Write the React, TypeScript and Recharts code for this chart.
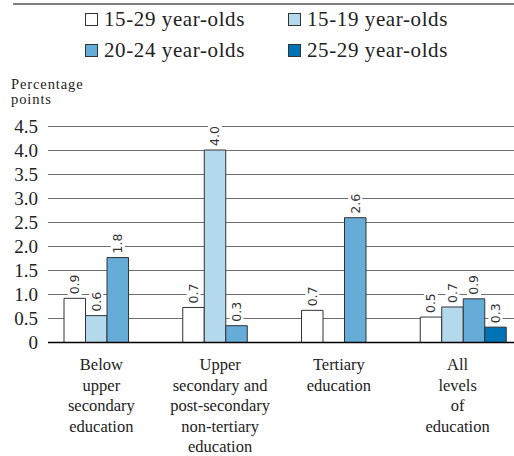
import React from "react";
import { BarChart, Bar, XAxis, YAxis, CartesianGrid, LabelList } from "recharts";

const categoryLines: string[][] = [
  ["Below", "upper", "secondary", "education"],
  ["Upper", "secondary and", "post-secondary", "non-tertiary", "education"],
  ["Tertiary", "education"],
  ["All", "levels", "of", "education"],
];
const seriesNames = ["15-29 year-olds", "15-19 year-olds", "20-24 year-olds", "25-29 year-olds"];
const seriesColors = ["#ffffff", "#b4d8ec", "#65acd8", "#0072b6"];
const s1529 = [0.92, 0.73, 0.67, 0.53];
const s1519 = [0.56, 4.01, null, 0.74];
const s2024 = [1.77, 0.35, 2.6, 0.91];
const s2529 = [null, null, null, 0.32];
const yTicks = [0, 0.5, 1, 1.5, 2, 2.5, 3, 3.5, 4, 4.5];

const seriesValues = [s1529, s1519, s2024, s2529];
const keys = ["a", "b", "c", "d"];
const data = categoryLines.map((lines, i) => {
  const row: any = { name: lines.join(" "), idx: i };
  keys.forEach((k, j) => (row[k] = seriesValues[j][i]));
  return row;
});

const SERIF = "Liberation Serif, Times New Roman, DejaVu Serif, Liberation Sans, sans-serif";

const ValueLabel = (props: any) => {
  const { x, y, width, value } = props;
  if (value === null || value === undefined) return null;
  const cx = x + width / 2;
  const len = 21;
  const bottom = y - 4;
  return (
    <g>
      <rect x={cx - 7} y={bottom - len - 2} width={14} height={len + 4} fill="#fff" />
      <text
        x={cx}
        y={bottom}
        transform={`rotate(-90 ${cx} ${bottom})`}
        textAnchor="start"
        dominantBaseline="central"
        fontFamily="DejaVu Sans, sans-serif"
        fontSize={12.5}
        fill="#333"
      >
        {Number(value).toFixed(1)}
      </text>
    </g>
  );
};

const CatTick = (props: any) => {
  const { x, y, payload } = props;
  const lines = categoryLines[payload.index] || [];
  return (
    <text x={x - 6} y={y + 27.5} textAnchor="middle" fontFamily={SERIF} fontSize={16.5} fill="#222">
      {lines.map((l, i) => (
        <tspan key={i} x={x - 6} dy={i === 0 ? 0 : 20.6}>
          {l}
        </tspan>
      ))}
    </text>
  );
};

export default function App() {
  return (
    <div style={{ position: "absolute", left: 0, top: 0, width: 514, height: 456, overflow: "hidden", background: "#fff" }}>
      <div style={{ position: "absolute", left: 13, top: 3, width: 501, height: 2, background: "#7f7f7f" }} />
      {seriesNames.map((n, i) => (
        <div
          key={n}
          style={{
            position: "absolute",
            left: i % 2 === 0 ? 85 : 288,
            top: i < 2 ? 7 : 38,
            height: 24,
            display: "flex",
            alignItems: "center",
            fontFamily: SERIF,
            fontSize: 21,
            letterSpacing: 0.6,
            color: "#222",
            whiteSpace: "nowrap",
          }}
        >
          <span
            style={{
              display: "inline-block",
              width: 11,
              height: 11,
              border: "1px solid #333",
              background: seriesColors[i],
              marginRight: 6,
            }}
          />
          {n}
        </div>
      ))}
      <div
        style={{
          position: "absolute",
          left: 11,
          top: 77,
          fontFamily: SERIF,
          fontSize: 14.5,
          letterSpacing: 0.9,
          lineHeight: "15px",
          color: "#222",
        }}
      >
        <div>Percentage</div>
        <div>points</div>
      </div>
      <div style={{ position: "absolute", left: 0, top: 0 }}>
        <BarChart
          width={523}
          height={456}
          data={data}
          margin={{ top: 126.5, right: 0, left: 0, bottom: 0 }}
          barGap={0}
          barSize={21.5}
        >
          <CartesianGrid horizontal vertical={false} stroke="#6e6e6e" strokeWidth={1.2} />
          <YAxis
            width={48}
            domain={[0, 4.5]}
            ticks={yTicks}
            axisLine={false}
            tickLine={false}
            tickSize={0}
            tickMargin={10}
            interval={0}
            tickFormatter={(v: number) => (v === 0 ? "0" : v.toFixed(1))}
            tick={{ fontFamily: SERIF, fontSize: 19, fill: "#222" }}
          />
          <XAxis
            dataKey="name"
            height={113.5}
            axisLine={{ stroke: "#000", strokeWidth: 1.5 }}
            tickLine={false}
            tickSize={0}
            tickMargin={0}
            interval={0}
            tick={<CatTick />}
          />
          {keys.map((k, i) => (
            <Bar key={k} dataKey={k} fill={seriesColors[i]} stroke="#333" strokeWidth={1} isAnimationActive={false}>
              <LabelList dataKey={k} content={<ValueLabel />} />
            </Bar>
          ))}
        </BarChart>
      </div>
    </div>
  );
}
